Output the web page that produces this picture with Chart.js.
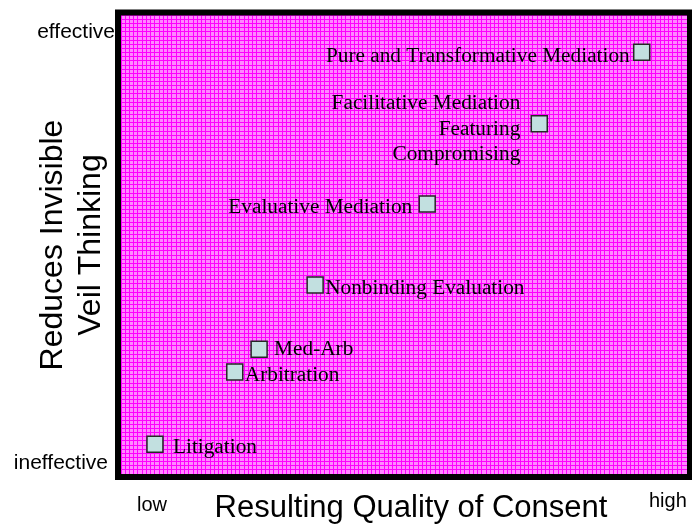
<!DOCTYPE html>
<html>
<head>
<meta charset="utf-8">
<script src="https://cdn.jsdelivr.net/npm/chart.js@4/dist/chart.umd.min.js"></script>
<style>
	html, body { margin: 0; padding: 0; background: #fff; }
	canvas { display: block; }
</style>
</head>
<body>
<canvas id="chart" width="692" height="527"></canvas>
<script>
// Process options placed by quality of consent (x) and veil reduction (y)
const approaches = [
	'Pure and Transformative Mediation',
	'Facilitative Mediation\nFeaturing\nCompromising',
	'Evaluative Mediation',
	'Nonbinding Evaluation',
	'Med-Arb',
	'Arbitration',
	'Litigation'
];
const consentQuality = [92, 73.9, 54.1, 34.3, 24.4, 20.1, 6];
const veilReduction = [91.9, 76.3, 58.8, 41.2, 27.2, 22.2, 6.5];

const xEnds = ['low', 'high'];
const yEnds = ['ineffective', 'effective'];
const xTitle = 'Resulting Quality of Consent';
const yTitle = ['Reduces Invisible', 'Veil Thinking'];

// label placement next to each square (style only)
const labelAlign = ['right', 'right', 'right', 'left', 'left', 'left', 'left'];
const labelDx = [-12, -19, -15, 10, 15, 10, 18];
const labelDy = [9.7, 11, 9.3, 9, 6, 8.7, 9.3];

const SANS = '"Liberation Sans", Arial, sans-serif';
const SERIF = '"Liberation Serif", "Times New Roman", serif';

const framePlugin = {
	id: 'frame',
	beforeDraw(chart) {
		const { ctx, chartArea: a } = chart;
		ctx.save();
		ctx.fillStyle = '#ff88ff';
		ctx.fillRect(a.left, a.top, a.right - a.left, a.bottom - a.top);
		ctx.restore();
	},
	afterDatasetsDraw(chart) {
		const { ctx } = chart;
		const meta = chart.getDatasetMeta(0);
		ctx.save();
		ctx.fillStyle = '#000';
		ctx.font = '21.3px ' + SERIF;
		ctx.textBaseline = 'alphabetic';
		meta.data.forEach((pt, i) => {
			const lines = approaches[i].split('\n');
			ctx.textAlign = labelAlign[i];
			lines.forEach((ln, j) => {
				const y = pt.y + labelDy[i] + (j - (lines.length - 1) / 2) * 25.5;
				ctx.fillText(ln, pt.x + labelDx[i], y);
			});
		});
		ctx.restore();
	},
	afterDraw(chart) {
		const { ctx, chartArea: a } = chart;
		ctx.save();
		ctx.strokeStyle = '#000';
		ctx.lineWidth = 6;
		ctx.strokeRect(a.left - 3, a.top - 2.5, a.right - a.left + 6, a.bottom - a.top + 5.5);

		ctx.fillStyle = '#000';
		ctx.font = '21px ' + SANS;
		ctx.textBaseline = 'alphabetic';
		ctx.textAlign = 'right';
		ctx.fillText(yEnds[1], 115, 38);
		ctx.fillText(yEnds[0], 108, 469);
		ctx.font = '20px ' + SANS;
		ctx.textAlign = 'left';
		ctx.fillText(xEnds[0], 137, 511);
		ctx.fillText(xEnds[1], 649, 507);

		ctx.font = '31px ' + SANS;
		ctx.textAlign = 'center';
		ctx.fillText(xTitle, 411, 517);

		ctx.font = '32px ' + SANS;
		ctx.save();
		ctx.translate(62, 245);
		ctx.rotate(-Math.PI / 2);
		ctx.fillText(yTitle[0], 0, 0);
		ctx.restore();
		ctx.save();
		ctx.translate(100, 245);
		ctx.rotate(-Math.PI / 2);
		ctx.fillText(yTitle[1], 0, 0);
		ctx.restore();
		ctx.restore();
	}
};

const gridAxis = (step) => ({
	type: 'linear',
	min: 0,
	max: 100,
	ticks: { display: false, stepSize: step, autoSkip: false },
	grid: { color: '#ff00ff', lineWidth: 1, drawTicks: false, tickLength: 0 },
	border: { display: false }
});

new Chart(document.getElementById('chart'), {
	type: 'scatter',
	data: {
		datasets: [{
			data: consentQuality.map((x, i) => ({ x, y: veilReduction[i] })),
			pointStyle: 'rect',
			pointRadius: 11.3,
			backgroundColor: '#c2e0e0',
			borderColor: '#262626',
			borderWidth: 1.5
		}]
	},
	options: {
		responsive: false,
		animation: false,
		layout: { autoPadding: false, padding: { left: 121, right: 5, top: 15, bottom: 53 } },
		plugins: { legend: { display: false }, tooltip: { enabled: false } },
		scales: { x: gridAxis(0.75), y: gridAxis(0.9) }
	},
	plugins: [framePlugin]
});
</script>
</body>
</html>
